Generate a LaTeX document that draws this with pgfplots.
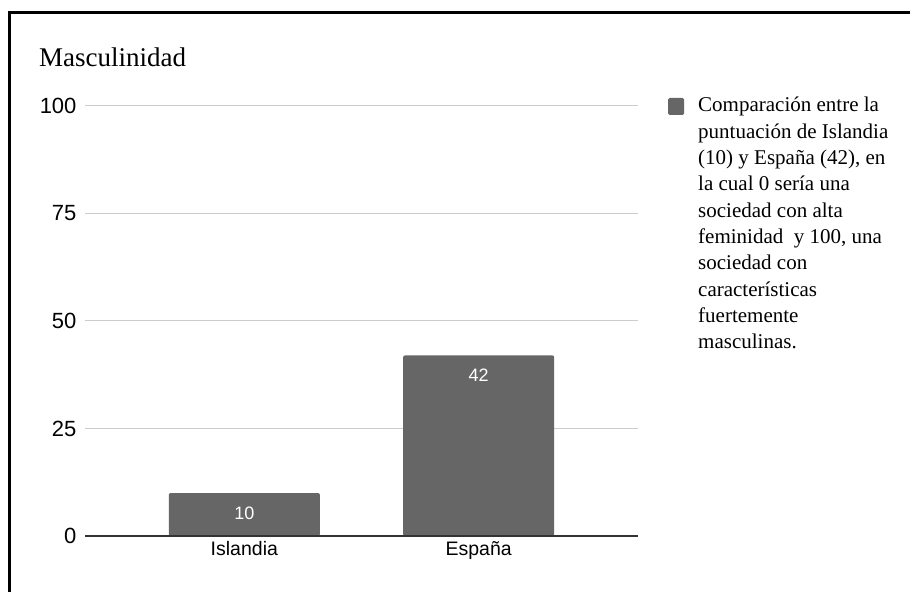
\documentclass[border=0pt]{standalone}
\usepackage{fontspec}
\setmainfont{Liberation Serif}
\newfontfamily\chartsans{Liberation Sans}
\usepackage{pgfplots}
\pgfplotsset{compat=1.18}
\definecolor{bargray}{HTML}{666666}
\definecolor{gridgray}{HTML}{CCCCCC}
\definecolor{axisdark}{HTML}{333333}
\begin{document}
\begin{tikzpicture}
\useasboundingbox (0pt,0pt) rectangle (910pt,592pt);
\fill[white] (0pt,0pt) rectangle (910pt,592pt);
% frame
\draw[line width=3pt, black] (9.5pt,0pt) -- (9.5pt,579pt) -- (910pt,579pt);
% title
\node[anchor=base west, font=\fontsize{27}{32}\selectfont, inner sep=0pt] at (39pt,525pt) {Masculinidad};
\begin{axis}[
  at={(85pt,56pt)}, anchor=south west,
  scale only axis, width=553pt, height=430pt,
  xmin=-0.68, xmax=1.68, ymin=0, ymax=100,
  ytick={0,25,50,75,100},
  xtick=data, xticklabels={Islandia,España},
  axis line style={draw=none},
  major tick length=0pt,
  ymajorgrids, grid style={gridgray, line width=1pt},
  tick label style={font=\chartsans\fontsize{22}{26}\selectfont, text=black},
  /pgf/number format/assume math mode=true,
  yticklabel style={xshift=-5pt},
  xticklabel style={font=\chartsans\fontsize{19.5}{23}\selectfont, yshift=-2pt},
  clip=false,
]
\addplot[ybar, bar width=0.645, fill=bargray, draw=none, rounded corners=2pt,
  nodes near coords,
  every node near coord/.append style={font=\chartsans\fontsize{18}{21}\selectfont,
    text=white, anchor=center, yshift=-20pt, rounded corners=0pt}]
  coordinates {(0,10) (1,42)};
\draw[axisdark, line width=1.5pt] (axis cs:-0.68,0) -- (axis cs:1.68,0);
\end{axis}
% legend
\fill[bargray, rounded corners=1.5pt] (668pt,477pt) rectangle (684pt,494pt);
\foreach \ln [count=\i from 0] in {Comparación entre la,
  puntuación de Islandia,
  (10) y España (42){,} en,
  la cual 0 sería una,
  sociedad con alta,
  feminidad \ y 100{,} una,
  sociedad con,
  características,
  fuertemente,
  masculinas.}
  \node[anchor=base west, inner sep=0pt, font=\fontsize{21}{26}\selectfont]
    at (698pt,{480pt-\i*26.3pt}) {\ln};
\end{tikzpicture}
\end{document}
